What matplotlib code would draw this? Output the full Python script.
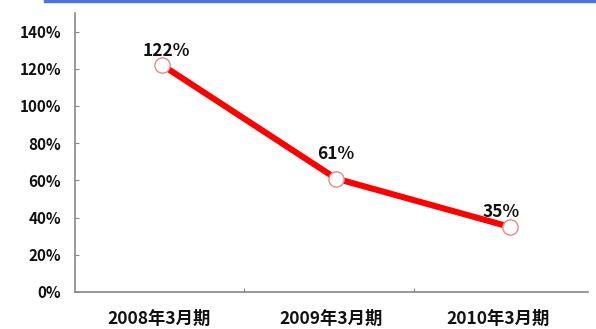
import matplotlib
matplotlib.use("Agg")
import matplotlib.pyplot as plt
from matplotlib.lines import Line2D

plt.rcParams['font.family'] = ['Noto Sans CJK JP', 'DejaVu Sans']

periods = ["2008年3月期", "2009年3月期", "2010年3月期"]
ratios = [122, 61, 35]
y_ticks = [0, 20, 40, 60, 80, 100, 120, 140]

# label placement tweaks (offset points for values, x-shift for period names)
value_offsets = [(3, 10), (0, 18), (-6, 11)]
period_shift = [-0.02, -0.03, -0.07]

fig = plt.figure(figsize=(5.96, 3.29), dpi=100)
ax = fig.add_axes([0.126, 0.1125, 0.861, 0.848])

x = list(range(len(periods)))
ax.plot(x, ratios, color="#ff0000", lw=4.4, solid_capstyle="butt", zorder=2,
        marker="o", markersize=11, markerfacecolor="white",
        markeredgecolor="#e88888", markeredgewidth=1.0)

for xi, v, off in zip(x, ratios, value_offsets):
    ax.annotate(f"{v}%", (xi, v), xytext=off, textcoords="offset points",
                ha="center", va="center", fontsize=12.5, fontweight="bold",
                color="#111111", zorder=3)

ax.set_xlim(-0.5, 2.45)
ax.set_ylim(0, 150)
ax.set_yticks(y_ticks)
ax.set_yticklabels([f"{t}%" for t in y_ticks], fontsize=11, fontweight="bold")
ax.set_xticks([0.47, 1.45])
ax.set_xticklabels([])
for xi, p, s in zip(x, periods, period_shift):
    ax.text(xi + s, -0.095, p, transform=ax.get_xaxis_transform(), ha="center",
            va="center", fontsize=12.5, fontweight="bold", color="#111111")

for side in ["top", "right"]:
    ax.spines[side].set_visible(False)
for side in ["left", "bottom"]:
    ax.spines[side].set_color("#888888")
    ax.spines[side].set_linewidth(1.2)
ax.tick_params(axis="both", direction="in", length=3, color="#888888",
               labelcolor="#111111")
ax.tick_params(axis="y", pad=10)

fig.add_artist(Line2D([0.075, 1.0], [0.997, 0.997], color="#4a78d8", lw=2.5,
                      transform=fig.transFigure))

fig.savefig("out.png", dpi=100)
